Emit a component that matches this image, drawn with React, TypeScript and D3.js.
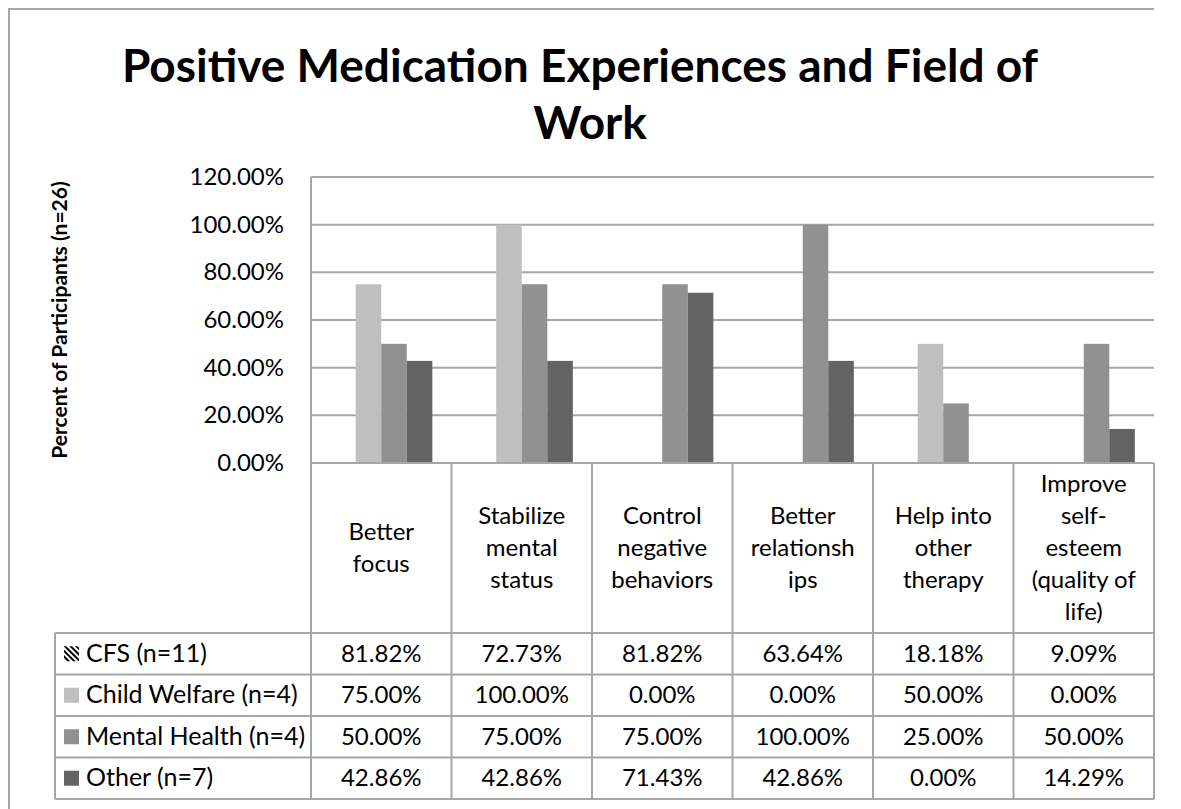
import React from "react";
import * as d3 from "d3";

const categories = [
  "Better focus",
  "Stabilize mental status",
  "Control negative behaviors",
  "Better relationships",
  "Help into other therapy",
  "Improve self-esteem (quality of life)",
];
const categoryLines = [
  ["Better", "focus"],
  ["Stabilize", "mental", "status"],
  ["Control", "negative", "behaviors"],
  ["Better", "relationsh", "ips"],
  ["Help into", "other", "therapy"],
  ["Improve", "self-", "esteem", "(quality of", "life)"],
];
const seriesNames = ["CFS (n=11)", "Child Welfare (n=4)", "Mental Health (n=4)", "Other (n=7)"];
const cfs = [0.8182, 0.7273, 0.8182, 0.6364, 0.1818, 0.0909];
const childWelfare = [0.75, 1.0, 0.0, 0.0, 0.5, 0.0];
const mentalHealth = [0.5, 0.75, 0.75, 1.0, 0.25, 0.5];
const other = [0.4286, 0.4286, 0.7143, 0.4286, 0.0, 0.1429];
const yTicks = [0, 0.2, 0.4, 0.6, 0.8, 1.0, 1.2];

const seriesValues = [cfs, childWelfare, mentalHealth, other];
const seriesFill = ["none", "#bfbfbf", "#919191", "#636363"];
const legendFill = ["url(#hatch)", "#bfbfbf", "#919191", "#636363"];

const W = 1181;
const H = 809;
const plotLeft = 311;
const plotRight = 1154;
const plotTop = 177;
const plotBottom = 463;
const headerBottom = 633;
const rowH = 41.5;
const legendLeft = 55;
const gridColor = "#a6a6a6";
const font = "Lato, 'Open Sans', sans-serif";
const fs = 24;

export default function App() {
  const x = d3.scaleBand<string>().domain(categories).range([plotLeft, plotRight]).padding(0);
  const y = d3.scaleLinear().domain([0, 1.2]).range([plotBottom, plotTop]);
  const bw = x.bandwidth() / 5.5;
  const inner = d3
    .scaleBand<number>()
    .domain(d3.range(seriesNames.length))
    .range([0, bw * seriesNames.length]);
  const groupOffset = (x.bandwidth() - bw * seriesNames.length) / 2;
  const fmt = d3.format(".2%");
  const colEdges = categories.map((c) => x(c) as number).concat([plotRight]);

  return (
    <div style={{ position: "absolute", left: 0, top: 0 }}>
      <svg width={W} height={H} style={{ display: "block", background: "#fff" }} fontFamily={font}>
        <defs>
          <pattern id="hatch" width="4" height="4" patternUnits="userSpaceOnUse" patternTransform="rotate(-45)">
            <rect width="4" height="4" fill="#fff" />
            <rect width="2" height="4" fill="#000" />
          </pattern>
        </defs>
        {/* outer frame */}
        <line x1={9} y1={8} x2={9} y2={H} stroke={gridColor} strokeWidth={2} />
        <line x1={8} y1={9} x2={plotRight} y2={9} stroke={gridColor} strokeWidth={2} />

        {/* title */}
        <text x={580} y={82} textAnchor="middle" fontSize={46} fontWeight="bold" fill="#000">
          Positive Medication Experiences and Field of
        </text>
        <text x={590} y={139} textAnchor="middle" fontSize={46} fontWeight="bold" fill="#000">
          Work
        </text>

        {/* y axis title */}
        <text
          transform={`translate(67,${(plotTop + plotBottom) / 2}) rotate(-90)`}
          textAnchor="middle"
          fontSize={21}
          fontWeight="bold"
          fill="#000"
        >
          Percent of Participants (n=26)
        </text>

        {/* gridlines and tick labels */}
        {yTicks.map((t) => (
          <g key={t}>
            <line x1={plotLeft} x2={plotRight} y1={y(t)} y2={y(t)} stroke={gridColor} strokeWidth={2} />
            <text x={284} y={y(t) + 8} textAnchor="end" fontSize={fs} fill="#000">
              {fmt(t)}
            </text>
          </g>
        ))}
        <line x1={plotLeft} x2={plotLeft} y1={plotTop} y2={plotBottom} stroke={gridColor} strokeWidth={2} />

        {/* bars */}
        {seriesValues.map((vals, si) => (
          <g key={si}>
            {vals.map((v, ci) => {
              const x0 = (x(categories[ci]) as number) + groupOffset + (inner(si) as number);
              return (
                <rect
                  key={ci}
                  x={x0}
                  y={y(v)}
                  width={inner.bandwidth()}
                  height={plotBottom - y(v)}
                  fill={seriesFill[si]}
                  stroke="none"
                />
              );
            })}
          </g>
        ))}

        {/* data table */}
        <line x1={plotLeft} x2={plotRight} y1={plotBottom} y2={plotBottom} stroke={gridColor} strokeWidth={2} />
        {colEdges.map((cx, i) => (
          <line key={"v" + i} x1={cx} x2={cx} y1={plotBottom} y2={headerBottom + rowH * 4} stroke={gridColor} strokeWidth={2} />
        ))}
        <line x1={legendLeft} x2={legendLeft} y1={headerBottom} y2={headerBottom + rowH * 4} stroke={gridColor} strokeWidth={2} />
        {d3.range(5).map((r) => (
          <line
            key={"h" + r}
            x1={legendLeft}
            x2={plotRight}
            y1={headerBottom + r * rowH}
            y2={headerBottom + r * rowH}
            stroke={gridColor}
            strokeWidth={2}
          />
        ))}

        {/* header labels */}
        {categories.map((c, ci) => {
          const lines = categoryLines[ci];
          const cx = (x(c) as number) + x.bandwidth() / 2;
          const mid = (plotBottom + headerBottom) / 2;
          const lh = 32;
          return (
            <text key={c} textAnchor="middle" fontSize={fs} fill="#000">
              {lines.map((ln, li) => (
                <tspan key={li} x={cx} y={mid - ((lines.length - 1) * lh) / 2 + li * lh + 8}>
                  {ln}
                </tspan>
              ))}
            </text>
          );
        })}

        {/* rows */}
        {seriesNames.map((s, si) => {
          const cy = headerBottom + si * rowH + rowH / 2;
          return (
            <g key={s}>
              <rect x={64} y={cy - 7.5} width={15} height={15} fill={legendFill[si]} />
              <text x={86} y={cy + 8} fontSize={fs + 1} fill="#000">
                {s}
              </text>
              {seriesValues[si].map((v, ci) => (
                <text
                  key={ci}
                  x={(x(categories[ci]) as number) + x.bandwidth() / 2}
                  y={cy + 8}
                  textAnchor="middle"
                  fontSize={fs}
                  fill="#000"
                >
                  {fmt(v)}
                </text>
              ))}
            </g>
          );
        })}
      </svg>
    </div>
  );
}
